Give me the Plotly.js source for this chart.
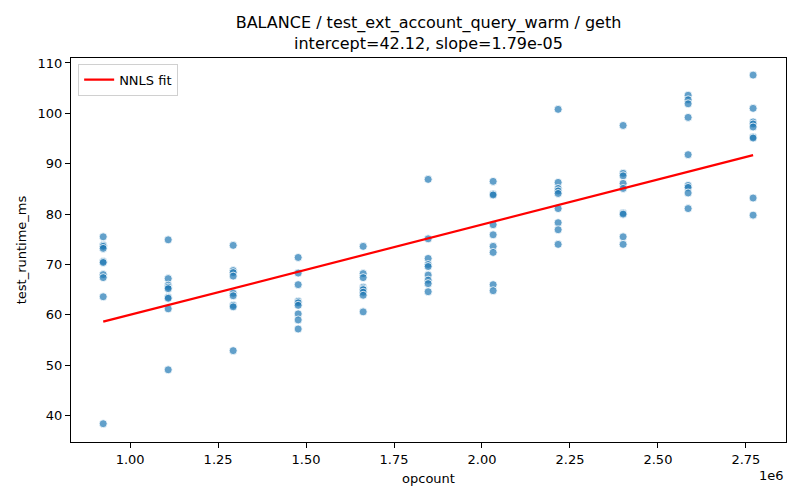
<!DOCTYPE html>
<html><head><meta charset="utf-8">
<script src="https://cdn.plot.ly/plotly-3.0.1.min.js"></script>
<style>html,body{margin:0;padding:0;background:#fff}#c{width:800px;height:500px}</style>
</head><body><div id="c"></div>
<script>
const opcounts = [923500, 1108200, 1292900, 1477600, 1662300, 1847000, 2031700, 2216400, 2401100, 2585800, 2770500];
const runtimes = [
  [75.5, 73.8, 73.6, 73.2, 70.6, 70.4, 68.0, 67.4, 63.6, 38.4],
  [74.9, 67.2, 65.9, 65.5, 65.2, 63.5, 63.3, 61.2, 49.1],
  [73.8, 68.8, 68.4, 67.7, 64.3, 63.8, 61.9, 61.6, 52.9],
  [71.4, 68.3, 66.0, 62.7, 62.4, 61.9, 60.2, 59.0, 57.2],
  [73.6, 68.2, 67.4, 65.5, 65.2, 65.0, 64.5, 63.9, 60.6],
  [86.9, 75.1, 71.2, 70.0, 69.6, 67.9, 66.9, 66.2, 64.6],
  [86.5, 84.0, 83.8, 77.9, 75.9, 73.6, 72.4, 66.0, 64.8],
  [100.8, 86.3, 85.1, 84.6, 84.1, 81.1, 78.3, 76.9, 74.0],
  [97.6, 88.1, 87.6, 86.1, 85.1, 80.2, 80.0, 75.5, 74.0],
  [103.6, 102.7, 101.9, 99.2, 91.8, 85.7, 85.3, 84.2, 81.1],
  [107.6, 101.0, 98.3, 97.9, 97.3, 95.3, 95.1, 83.2, 79.8]
];
const intercept = 42.12;
const slope = 1.79e-5;
const xTickVals = [1.0e6, 1.25e6, 1.5e6, 1.75e6, 2.0e6, 2.25e6, 2.5e6, 2.75e6];
const xTickText = ["1.00", "1.25", "1.50", "1.75", "2.00", "2.25", "2.50", "2.75"];
const yTickVals = [40, 50, 60, 70, 80, 90, 100, 110];

const px = [], py = [];
opcounts.forEach((x, i) => runtimes[i].forEach(v => { px.push(x); py.push(v); }));
const fx = [opcounts[0], opcounts[opcounts.length - 1]];
const fy = fx.map(x => intercept + slope * x);

const font = {family: "DejaVu Sans, sans-serif", color: "#000"};
const traces = [
  {x: px, y: py, type: "scatter", mode: "markers", showlegend: false,
   marker: {color: "rgba(31,119,180,0.7)", size: 8, line: {color: "#fff", width: 0.8}}},
  {x: fx, y: fy, type: "scatter", mode: "lines", name: "NNLS fit",
   line: {color: "#ff0000", width: 2.2}}
];
const axisCommon = {showgrid: false, zeroline: false, showline: true, linecolor: "#000", linewidth: 1,
  mirror: true, ticks: "outside", ticklen: 5, tickwidth: 1, tickcolor: "#000",
  tickfont: {family: font.family, size: 13, color: "#000"}};
const layout = {
  width: 800, height: 500,
  margin: {l: 71, r: 14, t: 58, b: 58},
  paper_bgcolor: "#fff", plot_bgcolor: "#fff",
  font: font,
  title: {text: "BALANCE / test_ext_account_query_warm / geth<br>intercept=42.12, slope=1.79e-05",
    font: {family: font.family, size: 16, color: "#000"},
    xref: "paper", x: 0.5, xanchor: "center", yref: "paper", y: 1, yanchor: "bottom", pad: {b: 30}},
  xaxis: Object.assign({}, axisCommon, {range: [832000, 2864000], tickvals: xTickVals, ticktext: xTickText,
    title: {text: "opcount", font: {family: font.family, size: 13, color: "#000"}, standoff: 8}}),
  yaxis: Object.assign({}, axisCommon, {range: [34.77, 110.99], tickvals: yTickVals,
    title: {text: "test_runtime_ms", font: {family: font.family, size: 13, color: "#000"}, standoff: 8}}),
  legend: {x: 0.01, y: 0.985, xanchor: "left", yanchor: "top", bgcolor: "rgba(255,255,255,0.8)",
    bordercolor: "#d0d0d0", borderwidth: 1, font: {family: font.family, size: 13, color: "#000"}},
  annotations: [{text: "1e6", xref: "paper", yref: "paper", x: 1, y: -0.062, xanchor: "right", yanchor: "top",
    showarrow: false, font: {family: font.family, size: 13, color: "#000"}}]
};
Plotly.newPlot("c", traces, layout, {displayModeBar: false, staticPlot: true});
</script></body></html>
